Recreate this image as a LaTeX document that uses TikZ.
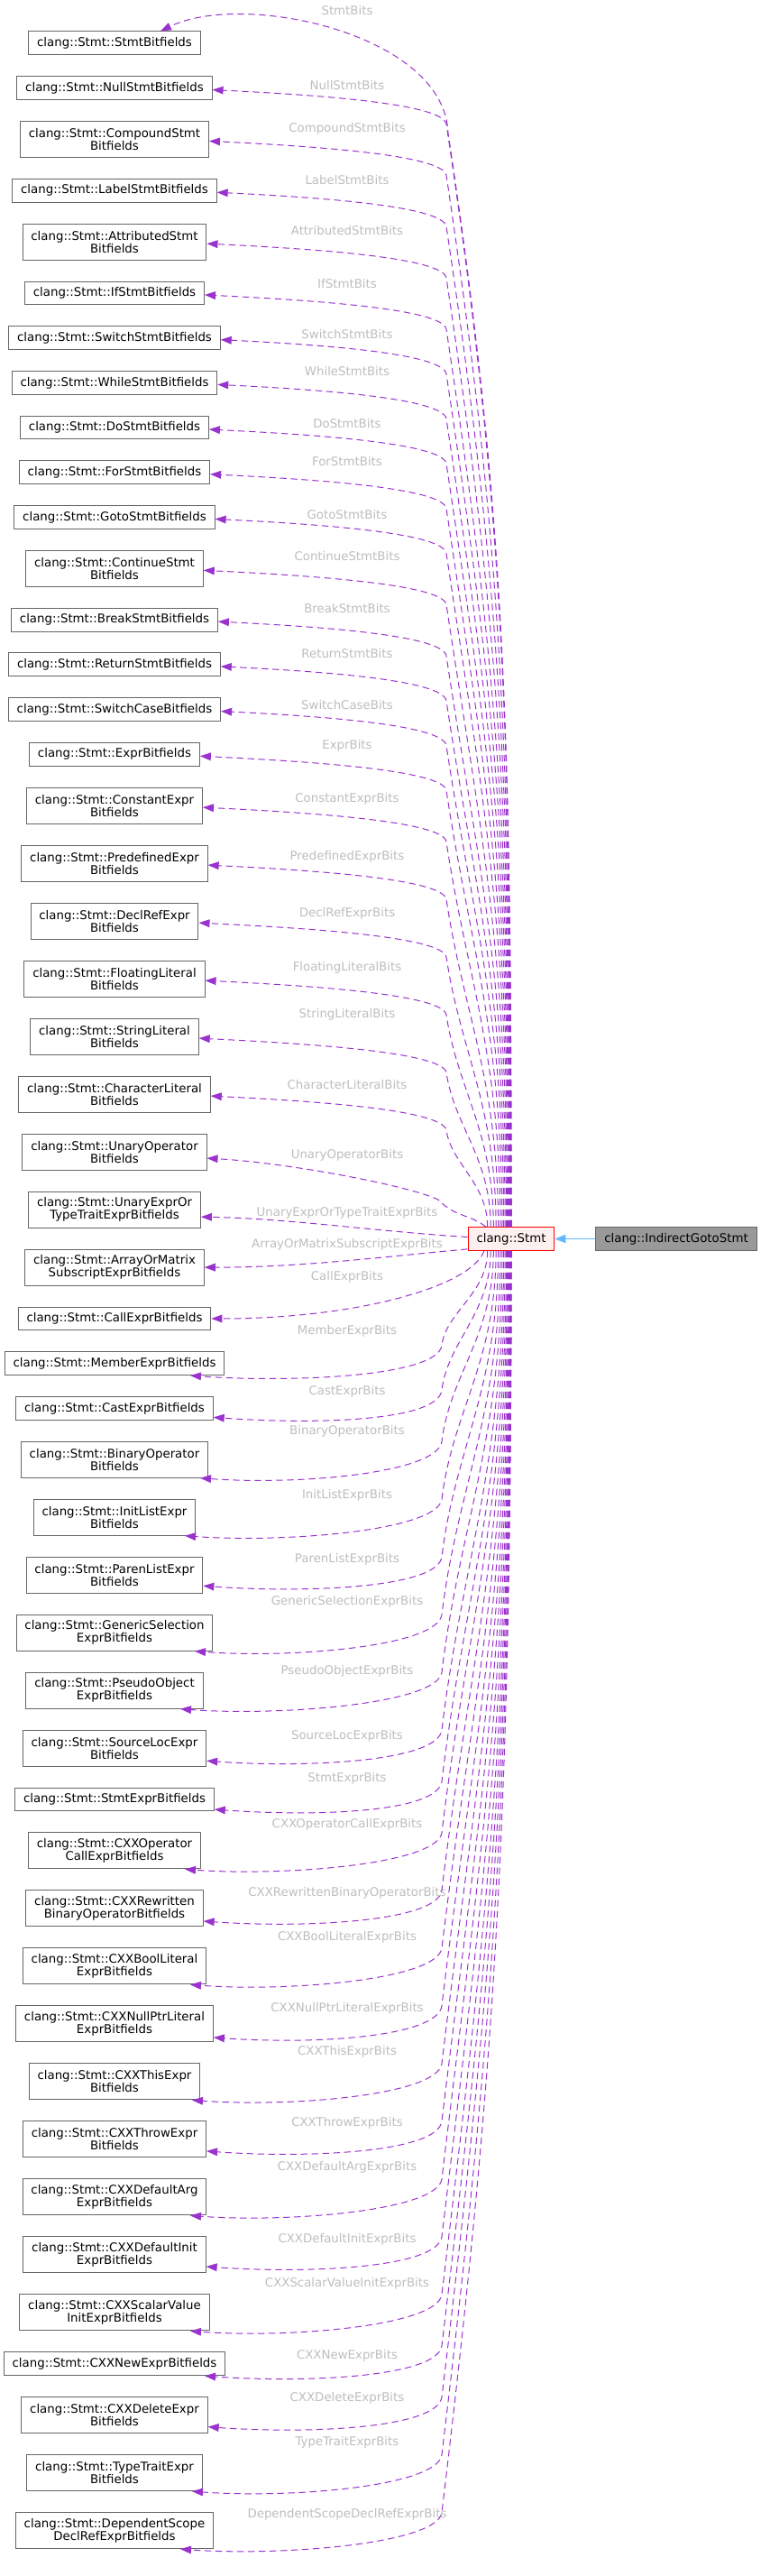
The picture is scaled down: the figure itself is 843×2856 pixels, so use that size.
\documentclass[tikz,border=0pt]{standalone}
\usepackage{fontspec}
\setmainfont{DejaVu Sans}
\usetikzlibrary{arrows.meta,calc}
\definecolor{edgec}{HTML}{9A32CD}
\definecolor{boxc}{HTML}{666666}
\definecolor{lblc}{HTML}{BEBEBE}
\definecolor{inhc}{HTML}{63B8FF}
\tikzset{
 box/.style={draw=boxc, line width=0.75pt, fill=white, font=\fontsize{10pt}{10.5pt}\selectfont, align=center, inner xsep=7pt, inner ysep=0pt, minimum height=19.3pt},
 dbox/.style={box, minimum height=30pt},
 lbl/.style={text=lblc, font=\fontsize{10pt}{12pt}\selectfont, inner sep=0pt},
 rel/.style={draw=edgec, line width=0.75pt, dash pattern=on 5.5pt off 3.5pt, -{Triangle[length=9pt,width=6.5pt]}},
}
\newcommand\topedge[3]{%
 \pgfmathsetmacro\edgeD{1320.65-#2}%
 \draw[rel] ($(stmt.north)+(#3,0)$) .. controls +(0,{-0.45*\edgeD}) and +({0.0525*\edgeD},{0.35*\edgeD}) .. ($(#1.east -| bundle)+(0,40)$) .. controls +(-4,-24) and +(100,5) .. ($(#1.east)+(0,2)$);}
\newcommand\botedge[4]{%
 \pgfmathsetmacro\edgeD{#2-1406.35}%
 \draw[rel] ($(stmt.south)+(#3,0)$) .. controls +(0,{0.45*\edgeD}) and +({0.042*\edgeD},{-0.35*\edgeD}) .. ($(#1.center -| bundleb)+(0,-20)$) .. controls +(-5,35) and +(110,8) .. #4;}
\begin{document}
\begin{tikzpicture}[x=0.75pt,y=-0.75pt]
\useasboundingbox (0,0) rectangle (843,2856);
\fill[white] (0,0) rectangle (843,2856);
\coordinate (bundle) at (495,0);
\coordinate (bundleb) at (490,0);
% central nodes
\node[box, draw=red, fill={rgb,255:red,255;green,240;blue,240}] (stmt) at (567,1373.5) {clang::Stmt};
\node[box, fill={rgb,255:red,153;green,153;blue,153}] (ind) at (750,1373.5) {clang::IndirectGotoStmt};
\draw[draw=inhc, line width=0.75pt, -{Triangle[length=9pt,width=7pt]}] (ind.west) -- (stmt.east);
% left column
\node[box]  (n1)  at (127,47.85) {clang::Stmt::StmtBitfields};
\node[box]  (n2)  at (127,97.55) {clang::Stmt::NullStmtBitfields};
\node[dbox] (n3)  at (127,154.4) {clang::Stmt::CompoundStmt\\Bitfields};
\node[box]  (n4)  at (127,211.25) {clang::Stmt::LabelStmtBitfields};
\node[dbox] (n5)  at (127,268.1) {clang::Stmt::AttributedStmt\\Bitfields};
\node[box]  (n6)  at (127,324.95) {clang::Stmt::IfStmtBitfields};
\node[box]  (n7)  at (127,374.65) {clang::Stmt::SwitchStmtBitfields};
\node[box]  (n8)  at (127,424.35) {clang::Stmt::WhileStmtBitfields};
\node[box]  (n9)  at (127,474.05) {clang::Stmt::DoStmtBitfields};
\node[box]  (n10) at (127,523.75) {clang::Stmt::ForStmtBitfields};
\node[box]  (n11) at (127,573.45) {clang::Stmt::GotoStmtBitfields};
\node[dbox] (n12) at (127,630.3) {clang::Stmt::ContinueStmt\\Bitfields};
\node[box]  (n13) at (127,687.15) {clang::Stmt::BreakStmtBitfields};
\node[box]  (n14) at (127,736.85) {clang::Stmt::ReturnStmtBitfields};
\node[box]  (n15) at (127,786.55) {clang::Stmt::SwitchCaseBitfields};
\node[box]  (n16) at (127,836.25) {clang::Stmt::ExprBitfields};
\node[dbox] (n17) at (127,893.1) {clang::Stmt::ConstantExpr\\Bitfields};
\node[dbox] (n18) at (127,957.1) {clang::Stmt::PredefinedExpr\\Bitfields};
\node[dbox] (n19) at (127,1021.1) {clang::Stmt::DeclRefExpr\\Bitfields};
\node[dbox] (n20) at (127,1085.1) {clang::Stmt::FloatingLiteral\\Bitfields};
\node[dbox] (n21) at (127,1149.1) {clang::Stmt::StringLiteral\\Bitfields};
\node[dbox] (n22) at (127,1213.1) {clang::Stmt::CharacterLiteral\\Bitfields};
\node[dbox] (n23) at (127,1277.1) {clang::Stmt::UnaryOperator\\Bitfields};
\node[dbox] (n24) at (127,1341.1) {clang::Stmt::UnaryExprOr\\TypeTraitExprBitfields};
\node[dbox] (n25) at (127,1405.1) {clang::Stmt::ArrayOrMatrix\\SubscriptExprBitfields};
\node[box]  (n26) at (127,1461.95) {clang::Stmt::CallExprBitfields};
\node[box]  (n27) at (127,1511.65) {clang::Stmt::MemberExprBitfields};
\node[box]  (n28) at (127,1561.35) {clang::Stmt::CastExprBitfields};
\node[dbox] (n29) at (127,1618.2) {clang::Stmt::BinaryOperator\\Bitfields};
\node[dbox] (n30) at (127,1682.2) {clang::Stmt::InitListExpr\\Bitfields};
\node[dbox] (n31) at (127,1746.2) {clang::Stmt::ParenListExpr\\Bitfields};
\node[dbox] (n32) at (127,1810.2) {clang::Stmt::GenericSelection\\ExprBitfields};
\node[dbox] (n33) at (127,1874.2) {clang::Stmt::PseudoObject\\ExprBitfields};
\node[dbox] (n34) at (127,1938.2) {clang::Stmt::SourceLocExpr\\Bitfields};
\node[box]  (n35) at (127,1995.05) {clang::Stmt::StmtExprBitfields};
\node[dbox] (n36) at (127,2051.9) {clang::Stmt::CXXOperator\\CallExprBitfields};
\node[dbox] (n37) at (127,2115.9) {clang::Stmt::CXXRewritten\\BinaryOperatorBitfields};
\node[dbox] (n38) at (127,2179.9) {clang::Stmt::CXXBoolLiteral\\ExprBitfields};
\node[dbox] (n39) at (127,2243.9) {clang::Stmt::CXXNullPtrLiteral\\ExprBitfields};
\node[dbox] (n40) at (127,2307.9) {clang::Stmt::CXXThisExpr\\Bitfields};
\node[dbox] (n41) at (127,2371.9) {clang::Stmt::CXXThrowExpr\\Bitfields};
\node[dbox] (n42) at (127,2435.9) {clang::Stmt::CXXDefaultArg\\ExprBitfields};
\node[dbox] (n43) at (127,2499.9) {clang::Stmt::CXXDefaultInit\\ExprBitfields};
\node[dbox] (n44) at (127,2563.9) {clang::Stmt::CXXScalarValue\\InitExprBitfields};
\node[box]  (n45) at (127,2620.75) {clang::Stmt::CXXNewExprBitfields};
\node[dbox] (n46) at (127,2677.6) {clang::Stmt::CXXDeleteExpr\\Bitfields};
\node[dbox] (n47) at (127,2741.6) {clang::Stmt::TypeTraitExpr\\Bitfields};
\node[dbox] (n48) at (127,2805.6) {clang::Stmt::DependentScope\\DeclRefExprBitfields};
% edge labels
\node[lbl] (l1)  at (385,12) {StmtBits};
\node[lbl] (l2)  at (385,95) {NullStmtBits};
\node[lbl] (l3)  at (385,143) {CompoundStmtBits};
\node[lbl] (l4)  at (385,200) {LabelStmtBits};
\node[lbl] (l5)  at (385,256) {AttributedStmtBits};
\node[lbl] (l6)  at (385,315) {IfStmtBits};
\node[lbl] (l7)  at (385,371) {SwitchStmtBits};
\node[lbl] (l8)  at (385,412) {WhileStmtBits};
\node[lbl] (l9)  at (385,470) {DoStmtBits};
\node[lbl] (l10) at (385,512) {ForStmtBits};
\node[lbl] (l11) at (385,571) {GotoStmtBits};
\node[lbl] (l12) at (385,617) {ContinueStmtBits};
\node[lbl] (l13) at (385,675) {BreakStmtBits};
\node[lbl] (l14) at (385,725) {ReturnStmtBits};
\node[lbl] (l15) at (385,782) {SwitchCaseBits};
\node[lbl] (l16) at (385,827) {ExprBits};
\node[lbl] (l17) at (385,886) {ConstantExprBits};
\node[lbl] (l18) at (385,950) {PredefinedExprBits};
\node[lbl] (l19) at (385,1013) {DeclRefExprBits};
\node[lbl] (l20) at (385,1073) {FloatingLiteralBits};
\node[lbl] (l21) at (385,1125) {StringLiteralBits};
\node[lbl] (l22) at (385,1203) {CharacterLiteralBits};
\node[lbl] (l23) at (385,1281) {UnaryOperatorBits};
\node[lbl] (l24) at (385,1345) {UnaryExprOrTypeTraitExprBits};
\node[lbl] (l25) at (385,1380) {ArrayOrMatrixSubscriptExprBits};
\node[lbl] (l26) at (385,1416) {CallExprBits};
\node[lbl] (l27) at (385,1476) {MemberExprBits};
\node[lbl] (l28) at (385,1543) {CastExprBits};
\node[lbl] (l29) at (385,1587) {BinaryOperatorBits};
\node[lbl] (l30) at (385,1658) {InitListExprBits};
\node[lbl] (l31) at (385,1729) {ParenListExprBits};
\node[lbl] (l32) at (385,1776) {GenericSelectionExprBits};
\node[lbl] (l33) at (385,1853) {PseudoObjectExprBits};
\node[lbl] (l34) at (385,1925) {SourceLocExprBits};
\node[lbl] (l35) at (385,1972) {StmtExprBits};
\node[lbl] (l36) at (385,2023) {CXXOperatorCallExprBits};
\node[lbl] (l37) at (385,2099) {CXXRewrittenBinaryOperatorBits};
\node[lbl] (l38) at (385,2148) {CXXBoolLiteralExprBits};
\node[lbl] (l39) at (385,2227) {CXXNullPtrLiteralExprBits};
\node[lbl] (l40) at (385,2275) {CXXThisExprBits};
\node[lbl] (l41) at (385,2354) {CXXThrowExprBits};
\node[lbl] (l42) at (385,2403) {CXXDefaultArgExprBits};
\node[lbl] (l43) at (385,2483) {CXXDefaultInitExprBits};
\node[lbl] (l44) at (385,2532) {CXXScalarValueInitExprBits};
\node[lbl] (l45) at (385,2612) {CXXNewExprBits};
\node[lbl] (l46) at (385,2659) {CXXDeleteExprBits};
\node[lbl] (l47) at (385,2708) {TypeTraitExprBits};
\node[lbl] (l48) at (385,2788) {DependentScopeDeclRefExprBits};
% edges above
\draw[rel] (stmt.north) .. controls +(0,-545) and +(64,425) .. ($(n1.east -| bundle)+(2,100)$) .. controls +(-3,-110) and +(92,-45) .. ($(n1.north)+(51,0)$);
\topedge{n2}{97.55}{0}
\topedge{n3}{154.4}{-0.1}
\topedge{n4}{211.25}{-0.2}
\topedge{n5}{268.1}{-0.3}
\topedge{n6}{324.95}{-0.5}
\topedge{n7}{374.65}{-0.9}
\topedge{n8}{424.35}{-1.3}
\topedge{n9}{474.05}{-1.8}
\topedge{n10}{523.75}{-2.5}
\topedge{n11}{573.45}{-3.3}
\topedge{n12}{630.3}{-4.3}
\topedge{n13}{687.15}{-5.4}
\topedge{n14}{736.85}{-6.8}
\topedge{n15}{786.55}{-8.3}
\topedge{n16}{836.25}{-10.1}
\topedge{n17}{893.1}{-12.1}
\topedge{n18}{957.1}{-14.4}
\topedge{n19}{1021.1}{-16.9}
\topedge{n20}{1085.1}{-19.7}
\topedge{n21}{1149.1}{-22.8}
\topedge{n22}{1213.1}{-26.3}
\draw[rel] ($(stmt.north)+(-28,0)$) .. controls +(-20,-15) and +(20,20) .. ($(n23.east -| bundle)+(-9,53)$) .. controls +(-30,-15) and +(90,5) .. ($(n23.east)+(0,7)$);
\draw[rel] ($(stmt.west)+(0,-2)$) .. controls +(-100,-6) and +(100,2) .. ($(n24.east)+(0,8)$);
% edges below
\draw[rel] ($(stmt.south west)+(0,-2)$) .. controls +(-90,8) and +(110,0) .. (n25.east);
\draw[rel] ($(stmt.south)+(-30,0)$) .. controls +(-15,40) and +(160,0) .. (n26.east);
\botedge{n27}{1511.65}{-26.3}{($(n27.south)+(84,0)$)}
\botedge{n28}{1561.35}{-22.8}{($(n28.east)+(0,10)$)}
\botedge{n29}{1618.2}{-19.7}{($(n29.south)+(95,0)$)}
\botedge{n30}{1682.2}{-16.9}{($(n30.south)+(78,0)$)}
\botedge{n31}{1746.2}{-14.4}{($(n31.east)+(0,12)$)}
\botedge{n32}{1810.2}{-12.1}{($(n32.south)+(89,0)$)}
\botedge{n33}{1874.2}{-10.1}{($(n33.south)+(73,0)$)}
\botedge{n34}{1938.2}{-8.3}{($(n34.east)+(0,14)$)}
\botedge{n35}{1995.05}{-6.8}{($(n35.east)+(0,11)$)}
\botedge{n36}{2051.9}{-5.4}{($(n36.south)+(78,0)$)}
\botedge{n37}{2115.9}{-4.3}{($(n37.east)+(0,14)$)}
\botedge{n38}{2179.9}{-3.3}{($(n38.south)+(84,0)$)}
\botedge{n39}{2243.9}{-2.5}{($(n39.east)+(0,15)$)}
\botedge{n40}{2307.9}{-1.8}{($(n40.south)+(86,0)$)}
\botedge{n41}{2371.9}{-1.3}{($(n41.east)+(0,13)$)}
\botedge{n42}{2435.9}{-0.8}{($(n42.south)+(84,0)$)}
\botedge{n43}{2499.9}{-0.5}{($(n43.east)+(0,13)$)}
\botedge{n44}{2563.9}{-0.3}{($(n44.south)+(84,0)$)}
\botedge{n45}{2620.75}{-0.2}{($(n45.south)+(100,0)$)}
\botedge{n46}{2677.6}{0}{($(n46.east)+(0,13)$)}
\botedge{n47}{2741.6}{0}{($(n47.south)+(86,0)$)}
\botedge{n48}{2805.6}{0}{($(n48.south)+(73,0)$)}
\end{tikzpicture}
\end{document}
